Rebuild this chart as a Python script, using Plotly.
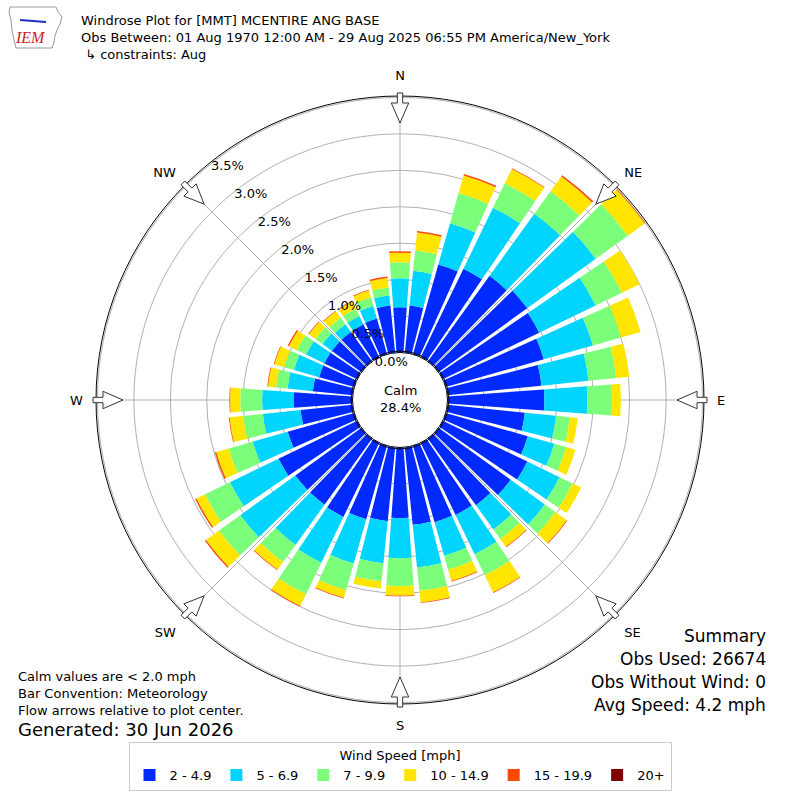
import math
import plotly.graph_objects as go

# direction bins (degrees, meteorological) and speed bins
directions = list(range(0, 360, 10))
speed_bins = ['2 - 4.9', '5 - 6.9', '7 - 9.9', '10 - 14.9', '15 - 19.9', '20+']
bin_colors = ['#002aff', '#00d4ff', '#7bff7b', '#ffe500', '#ff4900', '#800000']

# frequency (%) per direction for each speed bin
pct_2_49 = [0.62, 0.65, 1.28, 1.35, 1.45, 1.50, 1.47, 1.40, 1.30, 1.33, 1.07, 1.17,
            1.29, 1.22, 1.13, 1.10, 1.09, 1.07, 0.97, 1.02, 1.05, 1.13, 1.12, 1.12,
            1.20, 0.95, 0.72, 0.81, 0.55, 0.50, 0.50, 0.50, 0.50, 0.50, 0.51, 0.65]
pct_5_69 = [0.40, 0.48, 0.59, 0.93, 1.05, 1.16, 0.86, 0.70, 0.65, 0.59, 0.43, 0.38,
            0.49, 0.58, 0.41, 0.60, 0.48, 0.59, 0.55, 0.58, 0.63, 0.70, 0.68, 0.93,
            0.74, 0.50, 0.52, 0.43, 0.35, 0.36, 0.28, 0.16, 0.13, 0.13, 0.18, 0.14]
pct_7_99 = [0.22, 0.28, 0.43, 0.37, 0.38, 0.54, 0.40, 0.40, 0.38, 0.34, 0.19, 0.17,
            0.20, 0.18, 0.16, 0.32, 0.20, 0.32, 0.38, 0.25, 0.38, 0.48, 0.29, 0.36,
            0.38, 0.34, 0.27, 0.30, 0.16, 0.14, 0.14, 0.12, 0.11, 0.11, 0.12, 0.11]
pct_10_149 = [0.13, 0.25, 0.25, 0.22, 0.25, 0.29, 0.27, 0.28, 0.18, 0.12, 0.11, 0.13,
              0.13, 0.19, 0.13, 0.26, 0.16, 0.16, 0.13, 0.10, 0.11, 0.18, 0.13, 0.22,
              0.13, 0.18, 0.19, 0.14, 0.11, 0.14, 0.12, 0.11, 0.11, 0.11, 0.10, 0.13]
pct_15_199 = [0.02, 0.02, 0.02, 0.01, 0.02, 0.01, 0.00, 0.00, 0.00, 0.00, 0.00, 0.00,
              0.00, 0.01, 0.01, 0.01, 0.01, 0.01, 0.01, 0.00, 0.01, 0.01, 0.01, 0.02,
              0.02, 0.02, 0.01, 0.01, 0.01, 0.01, 0.02, 0.01, 0.01, 0.01, 0.01, 0.02]
pct_20p = [0.0, 0.0, 0.003, 0.0, 0.003, 0.0, 0.0, 0.0, 0.0, 0.0, 0.0, 0.0,
           0.0, 0.0, 0.0, 0.0, 0.0, 0.0, 0.0, 0.0, 0.0, 0.0, 0.0, 0.0,
           0.0, 0.0, 0.0, 0.0, 0.0, 0.0, 0.0, 0.0, 0.0, 0.0, 0.0, 0.0]

radial_ticks = [0.0, 0.5, 1.0, 1.5, 2.0, 2.5, 3.0, 3.5]
compass_vals = [0, 45, 90, 135, 180, 225, 270, 315]
compass_text = ['N', 'NE', 'E', 'SE', 'S', 'SW', 'W', 'NW']

calm_pct = 28.4
FONT = 'DejaVu Sans'

fig = go.Figure()
for name, color, vals in zip(speed_bins, bin_colors,
                             [pct_2_49, pct_5_69, pct_7_99, pct_10_149, pct_15_199, pct_20p]):
    fig.add_trace(go.Barpolar(
        r=vals, theta=directions, width=8.4, name=name,
        marker=dict(color=color, line=dict(width=0)),
    ))

# polar geometry (pixels, 800x800 page)
W = 800
R_OUT = 304
cx = cy = 400
dom = [(cx - R_OUT) / W, (cx + R_OUT) / W]
RAXIS_ANGLE = 130

# inward-pointing flow arrows at the 8 compass points
shapes = []
for c in compass_vals:
    a = math.radians(c)
    ux, uy = math.sin(a), math.cos(a)
    vx, vy = math.cos(a), -math.sin(a)

    def P(r, s):
        return ((cx + r * ux + s * vx) / W, (cy + r * uy + s * vy) / W)
    pts = [P(307, -2.7), P(297, -2.7), P(297, -8.7), P(277, 0), P(297, 8.7), P(297, 2.7), P(307, 2.7)]
    path = 'M ' + ' L '.join(f'{x:.5f},{y:.5f}' for x, y in pts) + ' Z'
    shapes.append(dict(type='path', path=path, xref='paper', yref='paper',
                       fillcolor='white', line=dict(color='#333333', width=1)))

# calm circle outline
rc = 49 / W
shapes.append(dict(type='circle', xref='paper', yref='paper',
                   x0=0.5 - rc, x1=0.5 + rc, y0=0.5 - rc, y1=0.5 + rc,
                   line=dict(color='black', width=1)))

# rough IEM logo: state outline plus station glyph
logo = [(10, 7), (56, 7), (58, 12), (62, 17), (60, 24), (57, 30), (55, 36),
        (54, 42), (52, 48), (16, 48), (14, 40), (12, 30), (11, 20), (9, 12)]
shapes.append(dict(type='path', xref='paper', yref='paper',
                   path='M ' + ' L '.join(f'{x / W:.5f},{1 - y / W:.5f}' for x, y in logo) + ' Z',
                   line=dict(color='#999999', width=1)))
shapes.append(dict(type='line', xref='paper', yref='paper',
                   x0=20 / W, x1=46 / W, y0=1 - 20 / W, y1=1 - 22 / W,
                   line=dict(color='#1f2fbf', width=2)))

def ann(text, x, y, size=13, xanchor='left', **kw):
    return dict(text=text, x=x / W, y=1 - y / W, xref='paper', yref='paper',
                xanchor=xanchor, yanchor='middle', showarrow=False,
                font=dict(family=FONT, size=size, color='black'), **kw)

annotations = [
    ann('Windrose Plot for [MMT] MCENTIRE ANG BASE', 79, 21),
    ann('Obs Between: 01 Aug 1970 12:00 AM - 29 Aug 2025 06:55 PM America/New_York', 79, 37),
    ann(' ↳ constraints: Aug', 79, 54),
    ann('Calm<br>%.1f%%' % calm_pct, 400, 399, xanchor='center'),
    ann('Calm values are < 2.0 mph', 16, 676),
    ann('Bar Convention: Meteorology', 16, 693),
    ann('Flow arrows relative to plot center.', 16, 710),
    ann('Generated: 30 Jun 2026', 16, 729, size=18),
    ann('Summary', 768, 636, size=17, xanchor='right'),
    ann('Obs Used: 26674', 768, 659, size=17, xanchor='right'),
    ann('Obs Without Wind: 0', 768, 682, size=17, xanchor='right'),
    ann('Avg Speed: 4.2 mph', 768, 705, size=17, xanchor='right'),
]
annotations.append(dict(text='<i>IEM</i>', x=30 / W, y=1 - 38 / W, xref='paper', yref='paper',
                        xanchor='center', yanchor='middle', showarrow=False,
                        font=dict(family='Liberation Serif', size=16, color='#cc2027')))

fig.update_layout(
    width=800, height=800,
    margin=dict(l=0, r=0, t=0, b=0),
    paper_bgcolor='white',
    font=dict(family=FONT, size=13, color='black'),
    polar=dict(
        domain=dict(x=dom, y=dom),
        hole=47.5 / R_OUT,
        bgcolor='white',
        barmode='stack',
        radialaxis=dict(
            range=[0, 3.52], tickvals=radial_ticks,
            ticktext=['%.1f%%' % v for v in radial_ticks],
            angle=RAXIS_ANGLE, tickangle=RAXIS_ANGLE,
            showline=False, ticks='',
            gridcolor='#b0b0b0', gridwidth=1,
            tickfont=dict(family=FONT, size=13, color='black'),
        ),
        angularaxis=dict(
            rotation=90, direction='clockwise',
            tickvals=compass_vals, ticktext=compass_text,
            ticks='outside', ticklen=10, tickcolor='rgba(0,0,0,0)',
            showline=True, linecolor='black', linewidth=1,
            gridcolor='#b0b0b0', gridwidth=1,
            tickfont=dict(family=FONT, size=13, color='black'),
        ),
    ),
    legend=dict(
        orientation='h', x=0.5, xanchor='center', y=0.011, yanchor='bottom',
        title=dict(text='Wind Speed [mph]', side='top center', font=dict(size=13)),
        bordercolor='#cccccc', borderwidth=1, font=dict(size=13),
        traceorder='normal',
    ),
    shapes=shapes,
    annotations=annotations,
)

fig.write_html('out.html', config={'displayModeBar': False},
               post_script="document.body.style.margin='0';")
